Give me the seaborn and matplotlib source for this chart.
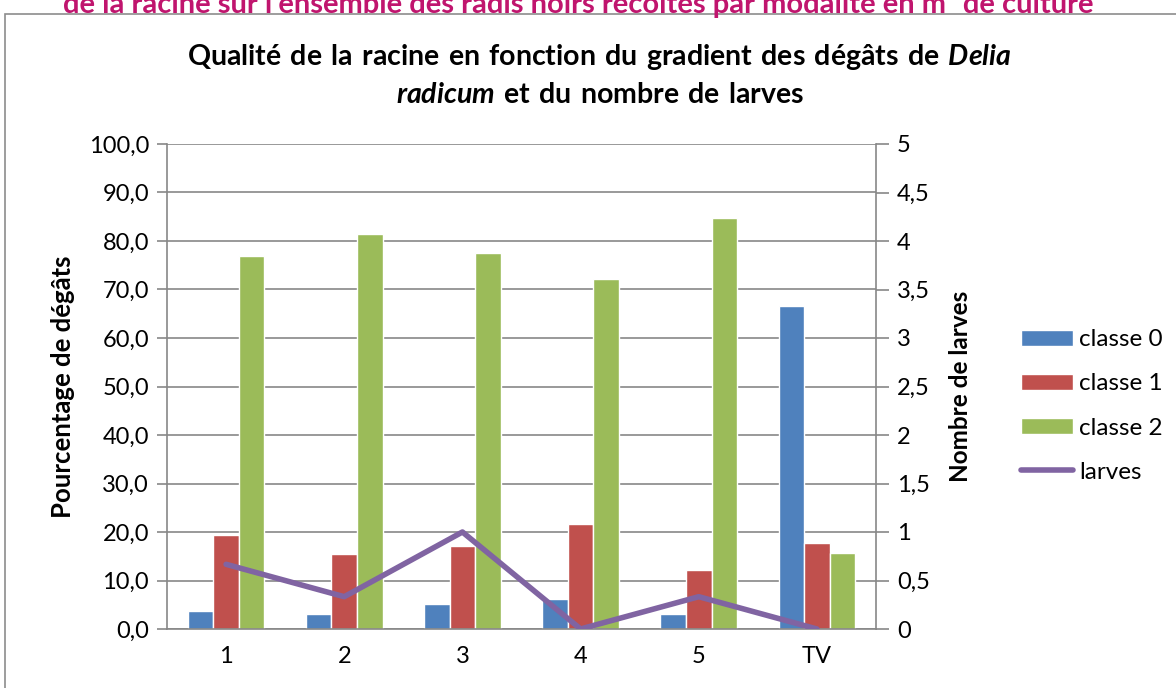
import numpy as np
import pandas as pd
import seaborn as sns
import matplotlib.pyplot as plt
from matplotlib.patches import Rectangle

# Data
modalites = ["1", "2", "3", "4", "5", "TV"]
classe_0 = [3.7, 3.1, 5.2, 6.2, 3.0, 66.7]
classe_1 = [19.3, 15.4, 17.2, 21.6, 12.2, 17.7]
classe_2 = [77.0, 81.5, 77.6, 72.2, 84.8, 15.6]
larves = [0.667, 0.333, 1.0, 0.0, 0.333, 0.0]

series_names = ["classe 0", "classe 1", "classe 2"]
colors = ["#4F81BD", "#C0504D", "#9BBB59"]
line_color = "#8064A2"

df = pd.DataFrame({
    "modalite": modalites * 3,
    "classe": np.repeat(series_names, len(modalites)),
    "pct": classe_0 + classe_1 + classe_2,
})

sns.set_style("white")
plt.rcParams["font.family"] = ["Lato", "DejaVu Sans"]
plt.rcParams["mathtext.fontset"] = "custom"
plt.rcParams["mathtext.bf"] = "Lato:bold"
plt.rcParams["mathtext.bfit"] = "Lato:italic:bold"
plt.rcParams["mathtext.rm"] = "Lato:bold"
# Excel-style black text
plt.rcParams["text.color"] = "black"
plt.rcParams["axes.labelcolor"] = "black"
plt.rcParams["xtick.labelcolor"] = "black"
plt.rcParams["ytick.labelcolor"] = "black"

fig = plt.figure(figsize=(11.76, 6.88), dpi=100)
ax = fig.add_axes([167 / 1176, 1 - 629 / 688, (876 - 167) / 1176, (629 - 144) / 688])

# chart frame
fig.patches.append(Rectangle((5 / 1176, -0.05), 1.2, 1 - 14 / 688 + 0.05,
                             transform=fig.transFigure, fill=False,
                             edgecolor="#8C8C8C", linewidth=1.2))

# heading of the page above the chart (cut off at the top, as in the source)
fig.text(0.492, 1 - 3 / 688, "de la racine sur l'ensemble des radis noirs récoltés par modalité en m² de culture",
         ha="center", va="center", fontsize=21, fontweight="bold", color="#C0156E")

sns.barplot(data=df, x="modalite", y="pct", hue="classe", palette=colors,
            width=0.65, gap=0, ax=ax, legend=True, saturation=1, errorbar=None)

ax.set_ylim(0, 100)
ax.set_yticks(np.arange(0, 101, 10))
ax.set_yticklabels([f"{v:.1f}".replace(".", ",") for v in np.arange(0, 101, 10)])
ax.set_xlim(-0.5, len(modalites) - 0.5)
ax.yaxis.grid(True, color="#878787", linewidth=1.2)
ax.set_axisbelow(True)
ax.set_xlabel("")
ax.set_ylabel("Pourcentage de dégâts", fontsize=18.5, fontweight="bold", labelpad=10)
for side in ["top", "right"]:
    ax.spines[side].set_visible(False)
for side in ["left", "bottom"]:
    ax.spines[side].set_color("#878787")
    ax.spines[side].set_linewidth(1.2)
ax.tick_params(axis="y", length=7, color="#878787", width=1.2, labelsize=17, pad=6)
ax.tick_params(axis="x", length=0, labelsize=17, pad=12)
ax.set_xticks(np.arange(-0.5, len(modalites), 1), minor=True)
ax.tick_params(axis="x", which="minor", length=8, color="#878787", width=1.2)

ax2 = ax.twinx()
sns.lineplot(x=np.arange(len(modalites)), y=larves, ax=ax2, color=line_color,
             linewidth=4, sort=False, label="larves", legend=False)
ax2.set_ylim(0, 5)
ax2.set_yticks(np.arange(0, 5.01, 0.5))
ax2.set_yticklabels([f"{v:g}".replace(".", ",") for v in np.arange(0, 5.01, 0.5)])
ax2.set_ylabel("Nombre de larves", fontsize=17.5, fontweight="bold", labelpad=14)
for side in ["top", "left", "bottom"]:
    ax2.spines[side].set_visible(False)
ax2.spines["right"].set_color("#878787")
ax2.spines["right"].set_linewidth(1.2)
ax2.tick_params(axis="y", length=9, color="#878787", width=1.2, labelsize=17, pad=6)

# combined legend
h1, l1 = ax.get_legend_handles_labels()
h2, l2 = ax2.get_legend_handles_labels()
ax.get_legend().remove()
fig.legend(h1 + h2, l1 + l2, loc="center left", bbox_to_anchor=(1021 / 1176, 1 - 406 / 688),
           frameon=False, fontsize=17.5, handlelength=2.15, handleheight=0.62,
           handletextpad=0.25, labelspacing=0.95, borderpad=0, borderaxespad=0)

title_1 = r"$\mathbf{Qualité\ de\ la\ racine\ en\ fonction\ du\ gradient\ des\ dégâts\ de}\ \mathbfit{Delia}$"
title_2 = r"$\mathbfit{radicum}\ \mathbf{et\ du\ nombre\ de\ larves}$"
fig.text(0.51, 1 - 57 / 688, title_1, ha="center", va="center", fontsize=20.5)
fig.text(0.51, 1 - 95 / 688, title_2, ha="center", va="center", fontsize=20.5)

fig.savefig("out.png", dpi=100)
